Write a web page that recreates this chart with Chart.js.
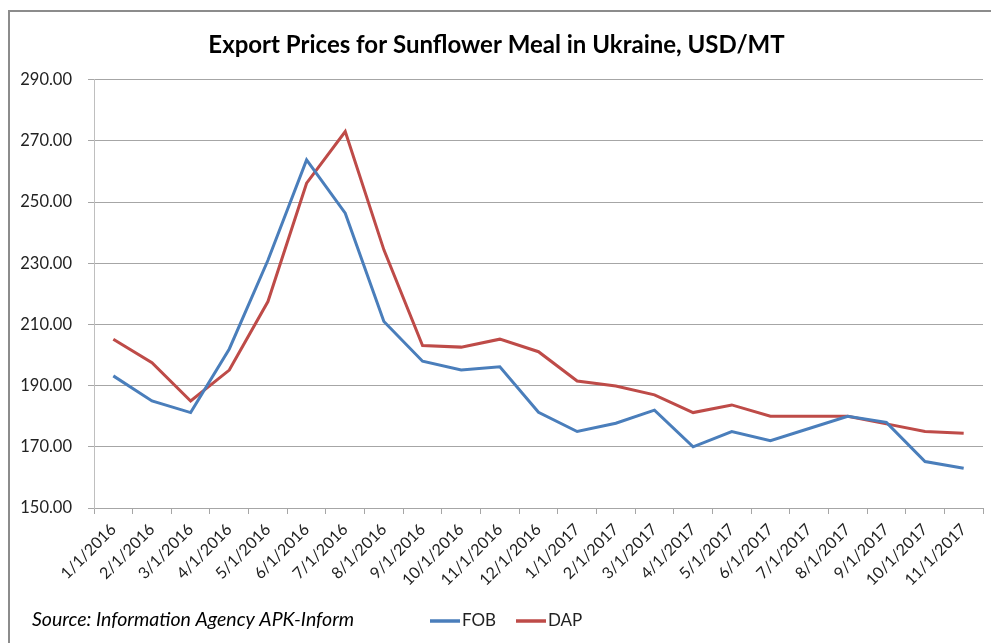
<!DOCTYPE html>
<html>
<head>
<meta charset="utf-8">
<script src="https://cdn.jsdelivr.net/npm/chart.js@4.4.1/dist/chart.umd.min.js"></script>
<style>
  html, body { margin: 0; padding: 0; background: #fff; }
  #wrap { width: 991px; height: 643px; position: relative; }
</style>
</head>
<body>
<div id="wrap"><canvas id="priceChart" width="991" height="643"></canvas></div>
<script>
var months = ['1/1/2016', '2/1/2016', '3/1/2016', '4/1/2016', '5/1/2016', '6/1/2016',
    '7/1/2016', '8/1/2016', '9/1/2016', '10/1/2016', '11/1/2016', '12/1/2016',
    '1/1/2017', '2/1/2017', '3/1/2017', '4/1/2017', '5/1/2017', '6/1/2017',
    '7/1/2017', '8/1/2017', '9/1/2017', '10/1/2017', '11/1/2017'];
var fob = [193.2, 185, 181.2, 202, 231, 263.8, 246.4, 211, 198, 195.1, 196.2, 181.3,
    175, 177.7, 182, 170, 175, 172, 176, 180, 178, 165.2, 163];
var dap = [205.2, 197.5, 185, 195.1, 217.5, 256.2, 273.1, 234.4, 203.1, 202.6, 205.2, 201.1,
    191.5, 189.9, 187, 181.2, 183.7, 180, 180, 180, 177.5, 175, 174.4];
var yTicks = [150, 170, 190, 210, 230, 250, 270, 290];

var blue = '#4a7ebb';
var red = '#be4b48';
var font = 'Lato, "DejaVu Sans", sans-serif';

// frame, source line and legend
var extras = {
    id: 'extras',
    afterDraw: function(chart) {
        var ctx = chart.ctx;
        ctx.save();
        ctx.strokeStyle = '#8c8c8c';
        ctx.lineWidth = 2;
        ctx.strokeRect(9, 11, 1010, 700);

        ctx.fillStyle = '#000';
        ctx.font = 'italic 19.5px ' + font;
        ctx.textBaseline = 'middle';
        ctx.textAlign = 'left';
        ctx.fillText('Source: Information Agency APK-Inform', 32, 620);

        var x = 430;
        ctx.font = '17px ' + font;
        chart.data.datasets.forEach(function(ds) {
            ctx.strokeStyle = ds.borderColor;
            ctx.lineWidth = 3.5;
            ctx.beginPath();
            ctx.moveTo(x, 621);
            ctx.lineTo(x + 30, 621);
            ctx.stroke();
            ctx.fillStyle = '#222';
            ctx.fillText(ds.label, x + 32, 621);
            x += 86;
        });
        ctx.restore();
    }
};

new Chart(document.getElementById('priceChart'), {
    type: 'line',
    data: {
        labels: months,
        datasets: [
            { label: 'FOB', data: fob, borderColor: blue, backgroundColor: blue, borderWidth: 3, pointRadius: 0, tension: 0 },
            { label: 'DAP', data: dap, borderColor: red, backgroundColor: red, borderWidth: 3, pointRadius: 0, tension: 0 }
        ]
    },
    options: {
        responsive: false,
        animation: false,
        layout: { padding: { left: 10, right: 8, top: 0, bottom: 50 } },
        plugins: {
            legend: { display: false },
            tooltip: { enabled: false },
            title: {
                display: true,
                text: 'Export Prices for Sunflower Meal in Ukraine, USD/MT',
                color: '#000',
                font: { family: font, size: 24, weight: 'bold', lineHeight: 1.2 },
                padding: { top: 31, bottom: 20 }
            }
        },
        scales: {
            x: {
                offset: true,
                grid: { offset: true, drawOnChartArea: false, drawTicks: true, tickLength: 6, color: '#a6a6a6' },
                border: { color: '#a6a6a6', width: 1 },
                ticks: { autoSkip: false, maxRotation: 45, minRotation: 45, color: '#222', padding: 6, font: { family: font, size: 16 } },
                afterFit: function(s) { s.height = 85; }
            },
            y: {
                min: 150,
                max: 290,
                afterBuildTicks: function(s) { s.ticks = yTicks.map(function(v) { return { value: v }; }); },
                grid: { color: '#a6a6a6', tickLength: 6 },
                border: { color: '#bfbfbf', width: 1 },
                ticks: {
                    color: '#222', padding: 16, font: { family: font, size: 16.5 },
                    callback: function(v) { return v.toFixed(2); }
                },
                afterFit: function(s) { s.width = 84; }
            }
        }
    },
    plugins: [extras]
});
</script>
</body>
</html>
